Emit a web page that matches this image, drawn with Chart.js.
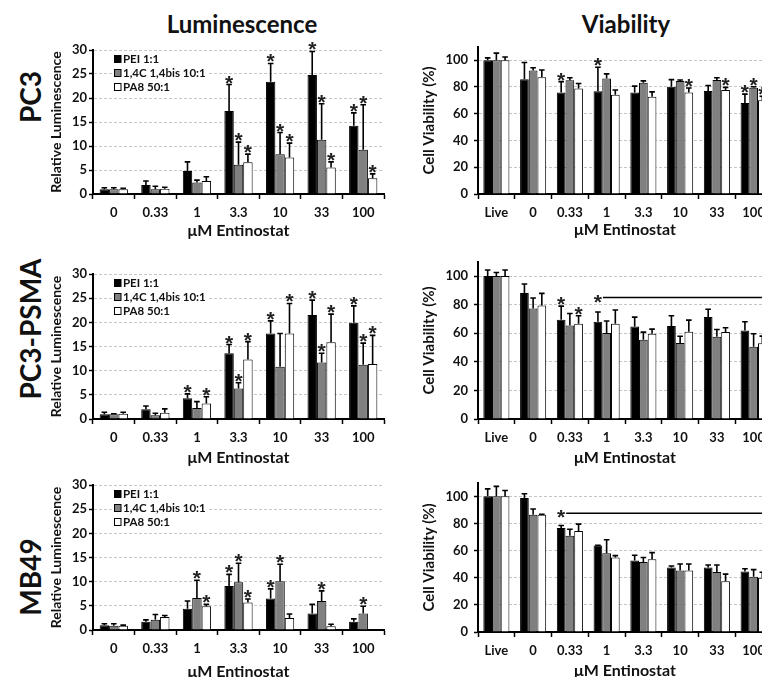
<!DOCTYPE html>
<html>
<head>
<meta charset="utf-8">
<script src="https://cdn.jsdelivr.net/npm/chart.js@4"></script>
<style>
  html, body { margin: 0; padding: 0; background: #fff; overflow: hidden; }
  body { width: 762px; height: 677px; position: relative; font-family: Lato, "Open Sans", sans-serif; }
  .panel { position: absolute; }
  .head { position: absolute; font-weight: bold; font-size: 24px; color: #111; transform: translate(-50%, -50%); white-space: nowrap; }
  .row { position: absolute; font-weight: bold; font-size: 28px; color: #111; transform: translate(-50%, -50%) rotate(-90deg); white-space: nowrap; }
</style>
</head>
<body>
<div class="head" style="left:242px;top:23px">Luminescence</div>
<div class="head" style="left:626px;top:23px">Viability</div>
<div class="row" style="left:30px;top:97px">PC3</div>
<div class="row" style="left:30px;top:329px">PC3-PSMA</div>
<div class="row" style="left:30px;top:577px">MB49</div>

<div class="panel" style="left:40px;top:40px;width:350px;height:200px"><canvas id="lum1"></canvas></div>
<div class="panel" style="left:40px;top:264px;width:350px;height:203px"><canvas id="lum2"></canvas></div>
<div class="panel" style="left:40px;top:475px;width:350px;height:206px"><canvas id="lum3"></canvas></div>
<div class="panel" style="left:415px;top:33px;width:365px;height:206px"><canvas id="via1"></canvas></div>
<div class="panel" style="left:415px;top:248px;width:365px;height:219px"><canvas id="via2"></canvas></div>
<div class="panel" style="left:415px;top:469px;width:365px;height:211px"><canvas id="via3"></canvas></div>

<script>
// categories and series
const lumCats = ['0', '0.33', '1', '3.3', '10', '33', '100'];
const viaCats = ['Live', '0', '0.33', '1', '3.3', '10', '33', '100'];
const seriesNames = ['PEI 1:1', '1,4C 1,4bis 10:1', 'PA8 50:1'];
const lumTicks = [0, 5, 10, 15, 20, 25, 30];
const viaTicks = [0, 20, 40, 60, 80, 100];

// PC3 luminescence (mean, error)
const pc3LumPEI = [1.0, 1.9, 4.8, 17.3, 23.4, 24.8, 14.2];
const pc3LumPEIErr = [0.3, 0.8, 1.9, 5.5, 3.8, 4.9, 2.7];
const pc3LumC14 = [1.0, 1.0, 2.4, 6.1, 8.3, 11.3, 9.2];
const pc3LumC14Err = [0.3, 0.6, 0.5, 4.7, 4.5, 7.5, 9.4];
const pc3LumPA8 = [1.0, 1.1, 2.7, 6.6, 7.6, 5.5, 3.3];
const pc3LumPA8Err = [0.2, 0.3, 0.9, 1.7, 3.0, 1.2, 0.9];
const pc3LumStars = [[0, 3], [0, 4], [0, 5], [0, 6], [1, 3], [1, 4], [1, 5], [1, 6], [2, 3], [2, 4], [2, 5], [2, 6]];

// PC3-PSMA luminescence
const psmaLumPEI = [1.0, 2.0, 4.3, 13.6, 17.7, 21.5, 19.9];
const psmaLumPEIErr = [0.4, 0.7, 0.9, 1.8, 2.6, 3.1, 3.5];
const psmaLumC14 = [1.0, 0.8, 2.3, 6.3, 10.8, 11.7, 11.2];
const psmaLumC14Err = [0.1, 0.4, 1.3, 1.2, 6.9, 1.9, 4.5];
const psmaLumPA8 = [1.1, 1.3, 3.2, 12.3, 17.7, 15.9, 11.4];
const psmaLumPA8Err = [0.3, 0.8, 1.4, 3.7, 6.2, 5.8, 5.9];
const psmaLumStars = [[0, 2], [0, 3], [0, 4], [0, 5], [0, 6], [1, 3], [1, 5], [1, 6], [2, 2], [2, 3], [2, 4], [2, 5], [2, 6]];

// MB49 luminescence
const mb49LumPEI = [1.0, 1.7, 4.4, 9.1, 6.5, 3.4, 1.7];
const mb49LumPEIErr = [0.3, 0.4, 1.6, 2.4, 2.0, 1.9, 0.6];
const mb49LumC14 = [0.9, 2.1, 6.6, 9.9, 10.1, 6.0, 3.4];
const mb49LumC14Err = [0.4, 1.1, 3.7, 3.9, 3.5, 2.1, 1.5];
const mb49LumPA8 = [0.9, 2.7, 4.9, 5.7, 2.5, 0.8, 0];
const mb49LumPA8Err = [0.1, 0.3, 0.4, 0.7, 0.8, 0.4, 0];
const mb49LumStars = [[0, 3], [0, 4], [1, 2], [1, 3], [1, 4], [1, 5], [1, 6], [2, 2], [2, 3]];

// PC3 viability
const pc3ViaPEI = [100, 85.7, 75.8, 76.8, 75.8, 80.1, 77.0, 68.0];
const pc3ViaPEIErr = [1.7, 12.6, 8.2, 17.9, 4.8, 5.4, 4.1, 6.6];
const pc3ViaC14 = [100, 92.3, 85.0, 86.4, 83.1, 84.5, 85.2, 79.4];
const pc3ViaC14Err = [5.3, 2.1, 1.9, 3.4, 1.4, 0.7, 1.7, 0.8];
const pc3ViaPA8 = [100, 87.2, 78.9, 74.1, 72.6, 75.8, 77.7, 70.0];
const pc3ViaPA8Err = [2.4, 5.5, 3.7, 3.6, 3.7, 3.4, 2.0, 3.0];
const pc3ViaStars = [[0, 2], [0, 3], [0, 7], [1, 7], [2, 5], [2, 6], [2, 7]];

// PC3-PSMA viability
const psmaViaPEI = [100, 88.2, 69.5, 68.1, 64.7, 65.1, 71.3, 62.0];
const psmaViaPEIErr = [4.3, 6.3, 9.5, 6.8, 6.6, 7.1, 5.5, 6.1];
const psmaViaC14 = [100, 77.4, 65.4, 60.1, 55.4, 53.1, 57.6, 50.6];
const psmaViaC14Err = [2.5, 7.3, 8.4, 8.5, 5.4, 4.8, 5.0, 9.1];
const psmaViaPA8 = [100, 79.5, 66.7, 66.7, 59.7, 61.0, 60.8, 53.0];
const psmaViaPA8Err = [4.3, 8.4, 5.5, 9.6, 3.2, 8.2, 3.0, 5.0];
const psmaViaStars = [[0, 2], [2, 2]];
const psmaViaBracket = [0, 3, 85]; // series, from category, level

// MB49 viability
const mb49ViaPEI = [100, 98.8, 76.6, 63.7, 52.7, 47.5, 47.5, 44.6];
const mb49ViaPEIErr = [5.5, 3.1, 1.9, 0.2, 3.9, 1.2, 1.9, 2.0];
const mb49ViaC14 = [100, 86.4, 70.9, 58.0, 51.6, 45.3, 44.2, 40.8];
const mb49ViaC14Err = [7.4, 4.3, 4.8, 10.0, 3.3, 4.8, 5.2, 5.2];
const mb49ViaPA8 = [100, 86.4, 74.5, 54.9, 53.7, 45.3, 37.5, 40.0];
const mb49ViaPA8Err = [4.3, 0.4, 5.0, 1.4, 4.8, 4.8, 5.2, 4.0];
const mb49ViaStars = [];
const mb49ViaBracket = [0, 2, 87.6];

const fills = ['#000000', '#808080', '#ffffff'];
const ink = '#111111';
const starFont = 'bold 21px "Liberation Sans", Arial, sans-serif';

Chart.defaults.font.family = 'Lato, "Open Sans", sans-serif';
Chart.defaults.font.weight = 'bold';
Chart.defaults.color = ink;

function makePanel(id, cats, means, errs, stars, cfg) {
  // error bars, stars, legend and bracket drawn on top of the bars
  const extras = {
    id: 'extras_' + id,
    afterDatasetsDraw(chart) {
      const ctx = chart.ctx;
      const y = chart.scales.y;
      const area = chart.chartArea;
      ctx.save();
      ctx.strokeStyle = '#000';
      ctx.lineWidth = 1.6;
      means.forEach((arr, s) => {
        const meta = chart.getDatasetMeta(s);
        arr.forEach((v, i) => {
          const e = errs[s][i];
          if (!e) return;
          const bar = meta.data[i];
          const top = y.getPixelForValue(v + e);
          ctx.beginPath();
          ctx.moveTo(bar.x, bar.y);
          ctx.lineTo(bar.x, top);
          ctx.moveTo(bar.x - 2.8, top);
          ctx.lineTo(bar.x + 2.8, top);
          ctx.stroke();
        });
      });
      ctx.font = starFont;
      ctx.fillStyle = '#222';
      ctx.textAlign = 'center';
      ctx.textBaseline = 'alphabetic';
      stars.forEach(([s, i]) => {
        const bar = chart.getDatasetMeta(s).data[i];
        const top = y.getPixelForValue(means[s][i] + errs[s][i]);
        ctx.fillText('*', bar.x, top + 5);
      });
      if (cfg.bracket) {
        const [s, i, level] = cfg.bracket;
        const bar = chart.getDatasetMeta(s).data[i];
        const py = y.getPixelForValue(level);
        ctx.fillText('*', bar.x, py + 11);
        ctx.lineWidth = 1.5;
        ctx.beginPath();
        ctx.moveTo(bar.x + 5, py);
        ctx.lineTo(area.right, py);
        ctx.stroke();
      }
      if (cfg.legend) {
        ctx.font = 'bold 11.5px Lato, sans-serif';
        ctx.textAlign = 'left';
        ctx.textBaseline = 'middle';
        seriesNames.forEach((name, s) => {
          const lx = area.left + 21;
          const ly = area.top + 9 + s * 14;
          const w = ctx.measureText(name).width;
          ctx.fillStyle = '#fff';
          ctx.fillRect(lx - 2, ly - 6, w + 14, 12);
          ctx.fillStyle = fills[s];
          ctx.fillRect(lx, ly - 3.5, 7, 7);
          ctx.lineWidth = 1;
          ctx.strokeStyle = '#000';
          ctx.strokeRect(lx + 0.5, ly - 3.5, 6.5, 7);
          ctx.fillStyle = ink;
          ctx.fillText(name, lx + 9, ly + 0.5);
        });
      }
      ctx.restore();
    }
  };

  new Chart(document.getElementById(id), {
    type: 'bar',
    data: {
      labels: cats,
      datasets: means.map((m, s) => ({
        label: seriesNames[s],
        data: m,
        backgroundColor: fills[s],
        borderColor: '#000',
        borderWidth: 1,
        categoryPercentage: cfg.catPct,
        barPercentage: 1
      }))
    },
    options: {
      responsive: true,
      maintainAspectRatio: false,
      animation: false,
      layout: { padding: { top: 10, right: cfg.padRight, bottom: 0, left: 0 } },
      plugins: { legend: { display: false }, tooltip: { enabled: false } },
      scales: {
        x: {
          ticks: { padding: 6, font: { size: 13, weight: 'bold' }, color: ink, maxRotation: 0, autoSkip: false },
          grid: { drawOnChartArea: false, tickLength: 5, tickColor: '#000', tickWidth: 1.5, offset: true },
          border: { color: '#000', width: 2 },
          title: { display: true, text: 'μM Entinostat', font: { size: 16, weight: 'bold' }, color: ink, padding: { top: 0, bottom: 0 } },
          afterFit: s => { s.height = cfg.xHeight; }
        },
        y: {
          min: 0,
          max: cfg.yMax,
          ticks: { padding: cfg.tickPad, font: { size: 13, weight: 'bold' }, color: ink },
          grid: { color: '#c6c6c6', lineWidth: 1, tickLength: 4, tickColor: '#000', tickWidth: 1.5 },
          border: { color: '#000', width: 2, dash: [3, 2] },
          title: { display: true, text: cfg.yTitle, font: { size: cfg.yTitleSize, weight: 'bold' }, color: ink, padding: { top: cfg.yTitlePad, bottom: 0 } },
          afterBuildTicks: s => { s.ticks = cfg.ticks.map(v => ({ value: v })); },
          afterFit: s => { s.width = cfg.yWidth; }
        }
      }
    },
    plugins: [extras]
  });
}

const lumCfg = { yMax: 30, ticks: lumTicks, yTitle: 'Relative Luminescence', yTitleSize: 14, yTitlePad: 7.6, yWidth: 53, tickPad: 2, padRight: 6, catPct: 0.68, legend: true };
const viaCfg = { yMax: 110, ticks: viaTicks, yTitle: 'Cell Viability (%)', yTitleSize: 15, yTitlePad: 5, yWidth: 63, tickPad: 6, padRight: 8, catPct: 0.71, legend: false };

makePanel('lum1', lumCats, [pc3LumPEI, pc3LumC14, pc3LumPA8], [pc3LumPEIErr, pc3LumC14Err, pc3LumPA8Err], pc3LumStars, { ...lumCfg, xHeight: 46 });
makePanel('lum2', lumCats, [psmaLumPEI, psmaLumC14, psmaLumPA8], [psmaLumPEIErr, psmaLumC14Err, psmaLumPA8Err], psmaLumStars, { ...lumCfg, xHeight: 48 });
makePanel('lum3', lumCats, [mb49LumPEI, mb49LumC14, mb49LumPA8], [mb49LumPEIErr, mb49LumC14Err, mb49LumPA8Err], mb49LumStars, { ...lumCfg, xHeight: 51 });
makePanel('via1', viaCats, [pc3ViaPEI, pc3ViaC14, pc3ViaPA8], [pc3ViaPEIErr, pc3ViaC14Err, pc3ViaPA8Err], pc3ViaStars, { ...viaCfg, xHeight: 45 });
makePanel('via2', viaCats, [psmaViaPEI, psmaViaC14, psmaViaPA8], [psmaViaPEIErr, psmaViaC14Err, psmaViaPA8Err], psmaViaStars, { ...viaCfg, xHeight: 48, bracket: psmaViaBracket });
makePanel('via3', viaCats, [mb49ViaPEI, mb49ViaC14, mb49ViaPA8], [mb49ViaPEIErr, mb49ViaC14Err, mb49ViaPA8Err], mb49ViaStars, { ...viaCfg, xHeight: 48, bracket: mb49ViaBracket });
</script>
</body>
</html>
